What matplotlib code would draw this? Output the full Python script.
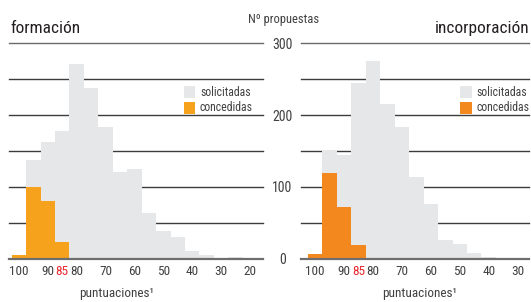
import matplotlib
matplotlib.use("Agg")
import matplotlib.pyplot as plt
from matplotlib.patches import Rectangle

# ---- data ----
bins = [100, 95, 90, 85, 80, 75, 70, 65, 60, 55, 50, 45, 40, 35, 30, 25, 20]
form_solicitadas = [5, 138, 163, 178, 272, 238, 184, 121, 125, 64, 39, 30, 11, 5, 0.5, 2, 0]
form_concedidas = [5, 100, 80, 23, 0, 0, 0, 0, 0, 0, 0, 0, 0, 0, 0, 0, 0]
inc_solicitadas = [6, 151, 145, 245, 276, 216, 183, 114, 76, 26, 20.5, 7.5, 2.5, 0.5, 0, 0, 0]
inc_concedidas = [6, 120, 72, 19, 0, 0, 0, 0, 0, 0, 0, 0, 0, 0, 0, 0, 0]
form_ticks = [100, 90, 85, 80, 70, 60, 50, 40, 30, 20]
inc_ticks = [100, 90, 85, 80, 70, 60, 50, 40, 30]
y_ticks = [0, 100, 200, 300]
grid_levels = [0, 50, 100, 150, 200, 250, 300]
titles = ["formación", "incorporación"]
legend_labels = ["solicitadas", "concedidas"]

W, H = 531, 302
FONT = ["Roboto Condensed", "Liberation Sans Narrow", "Liberation Sans", "DejaVu Sans"]
plt.rcParams["font.family"] = FONT

GREY = "#e6e7e8"
ORANGE_L = "#f7a21c"
ORANGE_R = "#f3881f"
LINE = "#3c3c3c"
TXT = "#404040"
RED = "#e8262c"

fig = plt.figure(figsize=(W / 100, H / 100), dpi=100)

def px_axes(x0, x1, y_top, y_bot):
    return [x0 / W, (H - y_bot) / H, (x1 - x0) / W, (y_bot - y_top) / H]

axL = fig.add_axes(px_axes(9.3, 263, 43.5, 258.7))
axR = fig.add_axes(px_axes(301, 529, 43.5, 258.7))

def setup(ax, xlim, sol, con, orange, ticks, xlabel_x):
    ax.set_xlim(*xlim)
    ax.set_ylim(0, 300)
    for s in ax.spines.values():
        s.set_visible(False)
    ax.patch.set_alpha(0)
    for g in grid_levels:
        if g == 0:
            ax.axhline(g, color="#6e6e6e", lw=1.6, zorder=4, clip_on=False)
        else:
            ax.axhline(g, color=LINE if g != 300 else "#6a6a6a", lw=1.0, zorder=1, clip_on=False)
    ax.bar(bins, sol, width=5, color=GREY, linewidth=0, zorder=2)
    ax.bar(bins, con, width=5, color=orange, linewidth=0, zorder=3)
    ax.set_xticks(ticks)
    ax.set_xticklabels([str(t) for t in ticks])
    ax.tick_params(axis="x", length=0, pad=4.2, labelsize=9.5, labelcolor=TXT)
    for lab, t in zip(ax.get_xticklabels(), ticks):
        if t == 85:
            lab.set_color(RED)
    ax.set_xlabel("puntuaciones¹", fontsize=9.5, color=TXT, va="baseline")
    ax.xaxis.set_label_coords(xlabel_x, (258.7 - 297.5) / 215.2)

setup(axL, (103.3, 15.5), form_solicitadas, form_concedidas, ORANGE_L, form_ticks,
      (117 - 9.3) / (263 - 9.3))
setup(axR, (104.8, 26.1), inc_solicitadas, inc_concedidas, ORANGE_R, inc_ticks,
      (420 - 301) / (529 - 301))

axL.set_yticks([])
axR.set_yticks(y_ticks)
axR.set_yticklabels([str(v) for v in y_ticks])
axR.tick_params(axis="y", length=0, pad=(301 - 282.5) * 0.72, labelsize=10, labelcolor=TXT)
for lab in axR.get_yticklabels():
    lab.set_horizontalalignment("center")

# titles
fig.text(10 / W, (H - 33.3) / H, titles[0], fontsize=12.5, color="#231f20", va="baseline", ha="left")
fig.text(529.5 / W, (H - 32.5) / H, titles[1], fontsize=12.5, color="#231f20", va="baseline", ha="right")
fig.text(284 / W, (H - 23.5) / H, "Nº propuestas", fontsize=9, color=TXT, va="baseline", ha="center")

# legends
def legend(x_box, x_text, orange):
    for i, (lab, col) in enumerate(zip(legend_labels, [GREY, orange])):
        ytop = 86.5 + i * 15.5
        fig.add_artist(Rectangle((x_box / W, (H - ytop - 11.5) / H), 11.5 / W, 11.5 / H,
                                 transform=fig.transFigure, color=col, lw=0))
        fig.text(x_text / W, (H - ytop - 5.8) / H, lab, fontsize=8.5, color=TXT,
                 va="center", ha="left")

legend(183.5, 200, ORANGE_L)
legend(460, 476.5, ORANGE_R)

fig.savefig("out.png", dpi=100, facecolor="white")
